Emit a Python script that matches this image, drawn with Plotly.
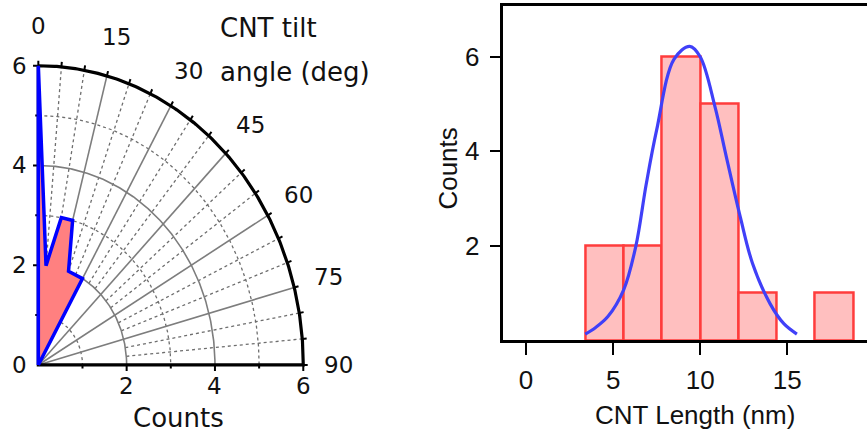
import numpy as np
import plotly.graph_objects as go

# ---------------- data ----------------
# Left panel: CNT tilt-angle distribution (polar, quarter circle)
tilt_angles = [0, 5, 10, 15, 20, 30]          # deg
tilt_counts = [6, 2, 3, 3, 2, 2]
radial_ticks = [0, 2, 4, 6]
radial_minor = [1, 3, 5]
angle_ticks = [0, 15, 30, 45, 60, 75, 90]
angle_minor = [5, 10, 20, 25, 35, 40, 50, 55, 65, 70, 80, 85]

# Right panel: CNT length histogram + fitted curve
bin_edges = [3.4, 5.6, 7.8, 10.0, 12.2, 14.4, 16.6, 18.8]
length_counts = [2, 2, 6, 5, 1, 0, 1]
fit_x = [3.4, 4.0, 4.7, 5.6, 6.3, 6.9, 7.5, 8.5, 9.4, 10.0, 10.85, 11.5, 12.3, 13.0, 14.0, 14.8, 15.55]
fit_y = [0.13, 0.27, 0.50, 1.06, 1.98, 3.3, 4.45, 5.95, 6.22, 6.0, 4.94, 3.88, 2.61, 1.63, 0.78, 0.35, 0.13]
length_ticks = [0, 5, 10, 15]
count_ticks = [2, 4, 6]

RMAX = 6

# ---------------- helpers ----------------
def pol(r, deg):
    a = np.radians(np.asarray(deg, dtype=float))
    r = np.asarray(r, dtype=float)
    return r * np.sin(a), r * np.cos(a)

def seg_trace(segs, color, width, dash="solid"):
    xs, ys = [], []
    for sx, sy in segs:
        xs += list(sx) + [None]
        ys += list(sy) + [None]
    return go.Scatter(x=xs, y=ys, mode="lines", line=dict(color=color, width=width, dash=dash),
                      hoverinfo="skip", xaxis="x", yaxis="y")

fig = go.Figure()
arc_deg = np.linspace(0, 90, 181)

# dotted arcs (minor radii) and minor spokes
dotted = [pol(np.full_like(arc_deg, r), arc_deg) for r in radial_minor]
dotted += [pol([2, RMAX], [a, a]) for a in angle_minor]
fig.add_trace(seg_trace(dotted, "rgb(110,110,110)", 1.3, "dot"))

# solid gray arcs and major spokes
solid = [pol(np.full_like(arc_deg, r), arc_deg) for r in radial_ticks if 0 < r < RMAX]
solid += [pol([0, RMAX], [a, a]) for a in angle_ticks if 0 < a < 90]
fig.add_trace(seg_trace(solid, "rgb(125,125,125)", 1.6))

# frame: axes + outer arc
fx, fy = pol(np.full_like(arc_deg, RMAX), arc_deg[::-1])
frame_x = [0, 0] + list(fx)
frame_y = [RMAX, 0] + list(fy)
fig.add_trace(go.Scatter(x=frame_x, y=frame_y, mode="lines", line=dict(color="black", width=3.2),
                         hoverinfo="skip", xaxis="x", yaxis="y"))

# ticks: outer arc every 5 deg, axis ticks
ticks = [pol([RMAX, RMAX + 0.1], [a, a]) for a in sorted(angle_ticks + angle_minor)]
for r in range(1, RMAX + 1):
    ln = 0.12 if r % 2 == 0 else 0.07
    ticks.append((np.array([0, -ln]), np.array([r, r])))
    ticks.append((np.array([r, r]), np.array([0, -ln])))
fig.add_trace(seg_trace(ticks, "black", 2))

# data polygon
pr = [0] + tilt_counts + [0]
pa = [tilt_angles[0]] + tilt_angles + [tilt_angles[-1]]
px_, py_ = pol(pr, pa)
fig.add_trace(go.Scatter(x=px_, y=py_, mode="lines", fill="toself", fillcolor="#FF8080",
                         line=dict(color="#0000FF", width=3.5), hoverinfo="skip",
                         xaxis="x", yaxis="y"))

# ---------------- right panel ----------------
centers = [(bin_edges[i] + bin_edges[i + 1]) / 2 for i in range(len(length_counts))]
widths = [bin_edges[i + 1] - bin_edges[i] for i in range(len(length_counts))]
bx = [c for c, n in zip(centers, length_counts) if n > 0]
bw = [w for w, n in zip(widths, length_counts) if n > 0]
by = [n for n in length_counts if n > 0]
fig.add_trace(go.Bar(x=bx, y=by, width=bw, marker=dict(color="#FFBFBF", line=dict(color="#FF3C3C", width=2.5)),
                     xaxis="x2", yaxis="y2", hoverinfo="skip"))
fig.add_trace(go.Scatter(x=fit_x, y=fit_y, mode="lines", line=dict(color="#4040F8", width=3.2, shape="spline"),
                         xaxis="x2", yaxis="y2", hoverinfo="skip"))

# ---------------- annotations ----------------
LF = dict(family="DejaVu Sans", size=23, color="#111111")
TF = dict(family="DejaVu Sans", size=26, color="#111111")
ann = []
for r in radial_ticks:
    ann.append(dict(x=-0.22, y=r, text=str(r), xanchor="right", yanchor="middle", font=LF))
for r in radial_ticks[1:]:
    ann.append(dict(x=r, y=-0.43, text=str(r), xanchor="center", yanchor="middle", font=LF))
lx, ly = pol(np.full(len(angle_ticks), 6.8), angle_ticks)
for a, x, y in zip(angle_ticks, lx, ly):
    ann.append(dict(x=x, y=y, text=str(a), xanchor="center", yanchor="middle", font=LF))
ann.append(dict(x=3.17, y=-1.06, text="Counts", xanchor="center", yanchor="middle", font=TF))
ann.append(dict(x=4.07, y=6.75, text="CNT tilt", xanchor="left", yanchor="middle", font=TF))
ann.append(dict(x=4.07, y=5.88, text="angle (deg)", xanchor="left", yanchor="middle", font=TF))
for a in ann:
    a.update(xref="x", yref="y", showarrow=False)

RF = dict(family="Liberation Sans", size=26, color="#111111")
ann.append(dict(xref="paper", yref="paper", x=448.3 / 867, y=(436 - 168.3) / 436, text="Counts",
                textangle=-90, showarrow=False, xanchor="center", yanchor="middle", font=RF))
ann.append(dict(xref="paper", yref="paper", x=695 / 867, y=(436 - 415) / 436, text="CNT Length (nm)",
                showarrow=False, xanchor="center", yanchor="middle", font=RF))

# left panel: 0 -> x px 38.3, 6 -> 303.3 (44.17 px/unit); 0 -> y px 365, 6 -> 65.7 (49.88 px/unit)
fig.update_layout(
    width=867, height=436, margin=dict(l=0, r=0, t=0, b=0),
    paper_bgcolor="white", plot_bgcolor="white", showlegend=False,
    xaxis=dict(domain=[3.0 / 867, 391.6 / 867], range=[-0.8, 8.0], visible=False),
    yaxis=dict(domain=[(436 - 432.3) / 436, (436 - 0.9) / 436], range=[-1.35, 7.3], visible=False),
    xaxis2=dict(domain=[502.7 / 867, 1.0], range=[-1.338, 19.575], anchor="y2",
                tickvals=length_ticks, ticks="outside", ticklen=12, tickwidth=2, tickcolor="black",
                showline=True, linewidth=3, linecolor="black", mirror=True, showgrid=False, zeroline=False,
                tickfont=RF, ticklabelstandoff=3),
    yaxis2=dict(domain=[(436 - 340.2) / 436, (436 - 5.7) / 436], range=[0, 7.08], anchor="x2",
                tickvals=count_ticks, ticks="outside", ticklen=10, tickwidth=2, tickcolor="black",
                showline=True, linewidth=3, linecolor="black", mirror=False, showgrid=False, zeroline=False,
                tickfont=RF, ticklabelstandoff=5),
    annotations=ann,
    bargap=0,
)

fig.write_html("out.html")
